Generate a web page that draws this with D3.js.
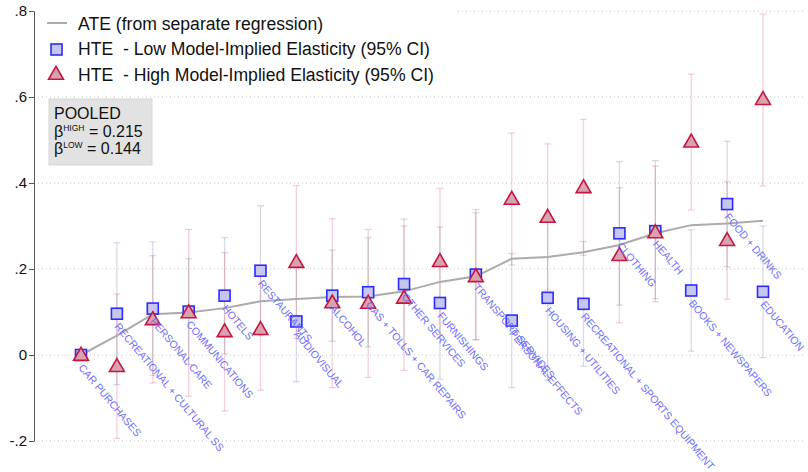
<!DOCTYPE html>
<html>
<head>
<meta charset="utf-8">
<script src="https://cdn.jsdelivr.net/npm/d3@7"></script>
<style>
  html, body { margin: 0; padding: 0; background: #fff; }
  svg { display: block; font-family: "Liberation Sans", Arial, Helvetica, sans-serif; }
</style>
</head>
<body>
<svg id="chart" width="808" height="472"></svg>
<script>
// Spending categories, ordered by the average treatment effect
const categories = [
  "CAR PURCHASES", "RECREATIONAL + CULTURAL SS", "PERSONAL CARE", "COMMUNICATIONS",
  "HOTELS", "RESTAURANTS", "AUDIOVISUAL", "ALCOHOL", "GAS + TOLLS + CAR REPAIRS",
  "OTHER SERVICES", "FURNISHINGS", "TRANSPORT SERVICES", "PERSONAL EFFECTS",
  "HOUSING + UTILITIES", "RECREATIONAL + SPORTS EQUIPMENT", "CLOTHING", "HEALTH",
  "BOOKS + NEWSPAPERS", "FOOD + DRINKS", "EDUCATION"
];

// ATE from separate regressions
const ate = [0, 0.045, 0.095, 0.099, 0.109, 0.125, 0.130, 0.135, 0.136, 0.148,
             0.170, 0.183, 0.224, 0.228, 0.239, 0.256, 0.283, 0.302, 0.306, 0.312];

// HTE, low model-implied elasticity, with 95% CI
const lowHTE = [0, 0.096, 0.108, 0.101, 0.138, 0.196, 0.078, 0.138, 0.146, 0.165,
                0.121, 0.187, 0.080, 0.133, 0.119, 0.283, 0.288, 0.150, 0.351, 0.147];
const lowLo  = [0, -0.069, -0.047, -0.022, 0.003, 0.045, -0.062, 0.032, 0.019, 0.014,
                -0.056, 0.036, -0.076, -0.059, -0.026, 0.116, 0.124, 0.009, 0.205, -0.006];
const lowHi  = [0, 0.261, 0.263, 0.224, 0.273, 0.347, 0.218, 0.244, 0.273, 0.316,
                0.298, 0.338, 0.236, 0.325, 0.264, 0.450, 0.452, 0.291, 0.497, 0.300];

// HTE, high model-implied elasticity, with 95% CI
const highHTE = [0, -0.026, 0.083, 0.099, 0.055, 0.060, 0.216, 0.122, 0.121, 0.133,
                 0.218, 0.183, 0.363, 0.321, 0.390, 0.232, 0.285, 0.496, 0.267, 0.595];
const highLo  = [0, -0.194, -0.065, -0.096, -0.130, -0.082, 0.038, -0.076, -0.052, -0.036,
                 0.048, 0.035, 0.209, 0.151, 0.232, 0.075, 0.131, 0.337, 0.130, 0.393];
const highHi  = [0, 0.142, 0.231, 0.292, 0.238, 0.202, 0.394, 0.317, 0.292, 0.300,
                 0.388, 0.331, 0.516, 0.491, 0.548, 0.389, 0.439, 0.653, 0.403, 0.793];

const yTicks = [-0.2, 0, 0.2, 0.4, 0.6, 0.8];
const yTickLabels = ["-.2", "0", ".2", ".4", ".6", ".8"];

const legendItems = [
  "ATE (from separate regression)",
  "HTE  - Low Model-Implied Elasticity (95% CI)",
  "HTE  - High Model-Implied Elasticity (95% CI)"
];
const pooledHigh = 0.215;
const pooledLow = 0.144;

const svg = d3.select("#chart");

const x = d3.scalePoint().domain(categories).range([81, 763]);
const y = d3.scaleLinear().domain([-0.2, 0.8]).range([441, 11]);

const COL_BLUE = "#2b2bff";
const COL_BLUE_FILL = "#c6c6ee";
const COL_RED = "#c4163e";
const COL_RED_FILL = "#d8a2b1";
const COL_LABEL = "rgb(108,108,255)";

// gridlines
svg.append("g").selectAll("line").data(yTicks).join("line")
  .attr("x1", 38).attr("x2", 806)
  .attr("y1", d => y(d)).attr("y2", d => y(d))
  .attr("stroke", "#c8c8c8").attr("stroke-width", 1)
  .attr("stroke-dasharray", "1,3");

// y axis
const yAxis = d3.axisLeft(y).tickValues(yTicks)
  .tickFormat((d, i) => yTickLabels[i]).tickSize(5).tickSizeOuter(0);
const gy = svg.append("g").attr("transform", "translate(34,0)").call(yAxis);
gy.select(".domain").attr("stroke", "#555").attr("stroke-width", 1);
gy.selectAll(".tick line").attr("stroke", "#555");
gy.selectAll(".tick text").attr("fill", "#111").attr("font-size", 15)
  .attr("font-family", "Liberation Sans, Arial, sans-serif").attr("x", -7);

const rows = categories.map((c, i) => ({
  c, ate: ate[i], low: lowHTE[i], lowLo: lowLo[i], lowHi: lowHi[i],
  high: highHTE[i], highLo: highLo[i], highHi: highHi[i]
}));

// confidence intervals
function ciBars(g, lo, hi, color) {
  const d = rows.filter(r => r[lo] !== r[hi]);
  g.selectAll("line.v").data(d).join("line").attr("class", "v")
    .attr("x1", r => x(r.c)).attr("x2", r => x(r.c))
    .attr("y1", r => y(r[lo])).attr("y2", r => y(r[hi]))
    .attr("stroke", color).attr("stroke-width", 1.3);
  [lo, hi].forEach(k => {
    g.selectAll("line.cap-" + k).data(d).join("line").attr("class", "cap-" + k)
      .attr("x1", r => x(r.c) - 3.5).attr("x2", r => x(r.c) + 3.5)
      .attr("y1", r => y(r[k])).attr("y2", r => y(r[k]))
      .attr("stroke", color).attr("stroke-width", 1.3);
  });
}
ciBars(svg.append("g"), "lowLo", "lowHi", "rgba(70,95,140,0.22)");
ciBars(svg.append("g"), "highLo", "highHi", "rgba(205,40,80,0.22)");

// ATE line
svg.append("path").datum(rows)
  .attr("d", d3.line().x(r => x(r.c)).y(r => y(r.ate)))
  .attr("fill", "none").attr("stroke", "#ababab").attr("stroke-width", 2);

// low-elasticity squares
const sq = 11;
svg.append("g").selectAll("rect").data(rows).join("rect")
  .attr("x", r => x(r.c) - sq / 2).attr("y", r => y(r.low) - sq / 2)
  .attr("width", sq).attr("height", sq)
  .attr("fill", COL_BLUE_FILL).attr("stroke", COL_BLUE).attr("stroke-width", 1.6);

// high-elasticity triangles
const tri = d3.symbol().type(d3.symbolTriangle).size(95);
svg.append("g").selectAll("path").data(rows).join("path")
  .attr("d", tri)
  .attr("transform", r => `translate(${x(r.c)},${y(r.high) + 1})`)
  .attr("fill", COL_RED_FILL).attr("stroke", COL_RED).attr("stroke-width", 1.6);

// rotated category labels hung below the low-elasticity markers
svg.append("g").selectAll("text").data(rows).join("text")
  .attr("transform", r => `translate(${x(r.c) - 3},${y(r.low) + 13}) rotate(50)`)
  .attr("font-size", 10.5).attr("fill", COL_LABEL)
  .text(r => r.c);

// legend
const lg = svg.append("g");
lg.append("rect").attr("x", 38).attr("y", 4).attr("width", 420).attr("height", 88).attr("fill", "#fff");
lg.append("line").attr("x1", 47).attr("x2", 67).attr("y1", 23).attr("y2", 23)
  .attr("stroke", "#ababab").attr("stroke-width", 2);
lg.append("rect").attr("x", 51).attr("y", 44).attr("width", sq).attr("height", sq)
  .attr("fill", COL_BLUE_FILL).attr("stroke", COL_BLUE).attr("stroke-width", 1.6);
lg.append("path").attr("d", tri).attr("transform", "translate(56,75)")
  .attr("fill", COL_RED_FILL).attr("stroke", COL_RED).attr("stroke-width", 1.6);
lg.selectAll("text").data(legendItems).join("text")
  .attr("x", 78).attr("y", (d, i) => 29.5 + i * 25.5)
  .attr("font-size", 17.6).attr("fill", "#111")
  .style("white-space", "pre")
  .text(d => d);

// pooled estimates box
const pb = svg.append("g");
pb.append("rect").attr("x", 49).attr("y", 99).attr("width", 103).attr("height", 66)
  .attr("fill", "#e2e2e2").attr("stroke", "#d6d6d6");
pb.append("text").attr("x", 54).attr("y", 119).attr("font-size", 16).attr("fill", "#111").text("POOLED");
[["HIGH", pooledHigh, 136.5], ["LOW", pooledLow, 153.5]].forEach(([sup, v, yy]) => {
  const t = pb.append("text").attr("x", 54).attr("y", yy).attr("font-size", 16).attr("fill", "#111");
  t.append("tspan").text("β");
  t.append("tspan").attr("font-size", 8.5).attr("dy", -6).text(sup);
  t.append("tspan").attr("dy", 6).text(" = " + d3.format(".3f")(v));
});
</script>
</body>
</html>
